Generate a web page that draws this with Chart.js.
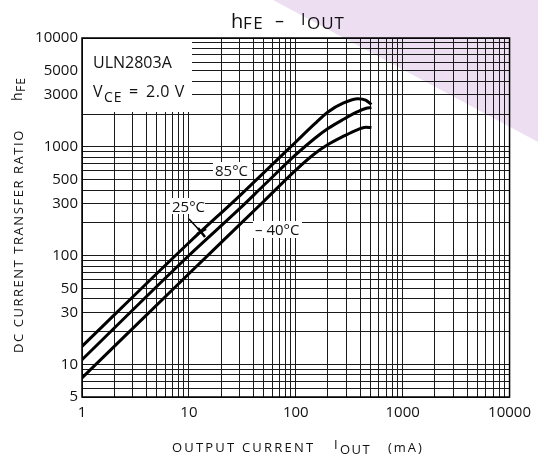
<!DOCTYPE html>
<html><head><meta charset="utf-8">
<script src="https://cdn.jsdelivr.net/npm/chart.js@4"></script>
<style>html,body{margin:0;padding:0;background:#fff}#wrap{width:538px;height:462px}</style>
</head><body><div id="wrap"><canvas id="c" width="538" height="462"></canvas></div>
<script>
const X_MA=[1,10,30,50,100,150,200,280,380,450,510];
const HFE_85=[14.6,131,356,576,1106,1620,2090,2530,2770,2690,2450];
const HFE_25=[11,100,271,440,845,1190,1470,1790,2100,2250,2290];
const HFE_M40=[7.5,68,193,314,610,862,1047,1250,1440,1515,1500];
const X_LABELS=[1,10,100,1000,10000];
const Y_LABELS=[5,10,30,50,100,300,500,1000,3000,5000,10000];
const TEMPS=['85°C','25°C','– 40°C'];

const FONT='"Open Sans", sans-serif';
const INK='#111';

// rejilla 1..9 por década
function logTicks(min,max){
  const t=[];
  for(let e=0;e<5;e++)for(let m=1;m<10;m++){const v=m*10**e;if(v>=min&&v<=max)t.push({value:v});}
  return t;
}
const pts=ys=>X_MA.map((x,i)=>({x,y:ys[i]}));

// trozos de texto en x fija (subíndices)
function put(ctx,parts){
  for(const p of parts){
    ctx.font=`${p.size}px ${FONT}`;
    ctx.letterSpacing=(p.ls||0)+'px';
    ctx.fillText(p.t,p.x,p.y);
  }
  ctx.letterSpacing='0px';
}
function box(ctx,x,y,w,h){ctx.fillStyle='#fff';ctx.fillRect(x,y,w,h);ctx.fillStyle=INK;}

const annot={
  id:'annot',
  beforeDraw(c){
    const g=c.ctx;
    g.save();
    g.fillStyle='#eddff1';
    g.beginPath();g.moveTo(273,0);g.lineTo(538,0);g.lineTo(538,142);g.closePath();g.fill();
    g.restore();
  },
  beforeDatasetsDraw(c){
    const g=c.ctx;
    g.save();
    g.textBaseline='alphabetic';
    box(g,83,39,109,73);
    put(g,[{t:'ULN2803A',size:16,x:93,y:68}]);
    put(g,[{t:'V',size:16,x:93,y:97},{t:'CE',size:14,x:104,y:102,ls:1},{t:'=',size:16,x:129,y:97},{t:'2.0 V',size:16,x:146,y:97,ls:0.5}]);
    box(g,213,162,39,17);
    put(g,[{t:TEMPS[0],size:15,x:215,y:176}]);
    box(g,170,198,35,16);
    put(g,[{t:TEMPS[1],size:15,x:172,y:212}]);
    box(g,253,221,49,17);
    put(g,[{t:TEMPS[2],size:15,x:255,y:235}]);
    g.restore();
  },
  afterDraw(c){
    const g=c.ctx,a=c.chartArea;
    g.save();
    g.strokeStyle='#000';g.lineWidth=1.5;
    g.strokeRect(a.left,a.top,a.right-a.left,a.bottom-a.top);
    // flecha 25°C
    g.lineWidth=1.5;
    g.beginPath();g.moveTo(189,219);g.lineTo(202,233);g.stroke();
    g.lineWidth=2.5;
    g.beginPath();g.moveTo(197,234);g.lineTo(206,229);g.stroke();
    g.beginPath();g.moveTo(198,228);g.lineTo(205,237);g.stroke();
    // título
    g.fillStyle=INK;g.textBaseline='alphabetic';
    put(g,[{t:'h',size:20,x:231,y:28},{t:'FE',size:17,x:243,y:29,ls:1.5},{t:'–',size:18,x:275,y:27},
      {t:'I',size:16,x:301,y:25},{t:'OUT',size:17,x:307,y:29,ls:1}]);
    // eje x
    put(g,[{t:'OUTPUT CURRENT',size:13,x:172,y:452,ls:2.2},{t:'I',size:13,x:334,y:449},
      {t:'OUT',size:13,x:340,y:454,ls:1.5},{t:'(mA)',size:13,x:388,y:452,ls:2}]);
    // eje y
    g.translate(23,353);g.rotate(-Math.PI/2);
    put(g,[{t:'DC CURRENT TRANSFER RATIO',size:13,x:0,y:0,ls:1.55},{t:'h',size:14,x:252,y:-1},{t:'FE',size:12,x:261,y:2,ls:1}]);
    g.restore();
  }
};

const axisFont={family:FONT,size:15};
new Chart(document.getElementById('c'),{
  type:'scatter',
  data:{datasets:[
    {label:TEMPS[0],data:pts(HFE_85)},
    {label:TEMPS[1],data:pts(HFE_25)},
    {label:TEMPS[2],data:pts(HFE_M40)}
  ].map(d=>({...d,showLine:true,borderColor:'#000',borderWidth:3,pointRadius:0,cubicInterpolationMode:'monotone'}))},
  options:{
    responsive:false,animation:false,devicePixelRatio:1,
    layout:{padding:{top:38,right:23,left:0,bottom:0}},
    plugins:{legend:{display:false},tooltip:{enabled:false}},
    scales:{
      x:{type:'logarithmic',min:1,max:10000,
        afterBuildTicks:s=>{s.ticks=logTicks(1,10000);},
        afterFit:s=>{s.height=65;},
        grid:{color:'#1a1a1a',lineWidth:1,drawTicks:false},
        border:{display:false},
        ticks:{autoSkip:false,maxRotation:0,padding:7,color:INK,font:axisFont,
          callback:v=>X_LABELS.includes(v)?String(v):''}},
      y:{type:'logarithmic',min:5,max:10000,
        afterBuildTicks:s=>{s.ticks=logTicks(5,10000);},
        afterFit:s=>{s.width=82;},
        grid:{color:'#1a1a1a',lineWidth:1,drawTicks:false},
        border:{display:false},
        ticks:{autoSkip:false,padding:4,color:INK,font:axisFont,
          callback:v=>Y_LABELS.includes(v)?String(v):''}}
    }
  },
  plugins:[annot]
});
</script></body></html>
